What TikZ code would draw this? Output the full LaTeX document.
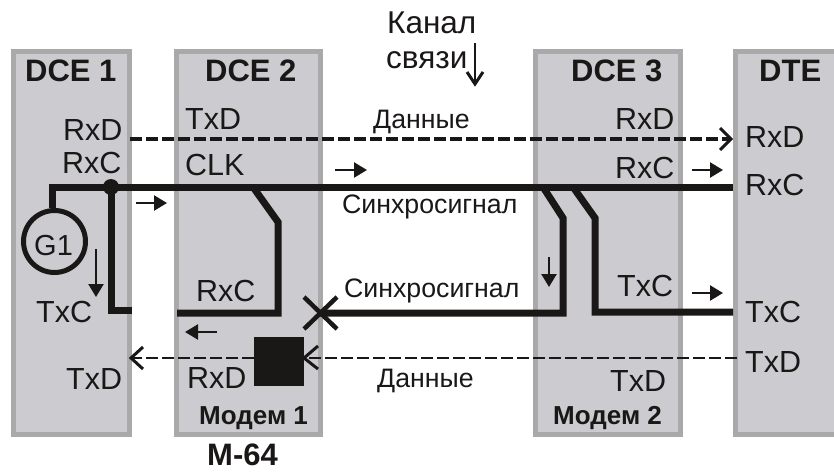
\documentclass[tikz,border=0pt]{standalone}
\usepackage{fontspec}
\setmainfont{Liberation Sans}
\usetikzlibrary{arrows.meta}
\definecolor{boxfill}{HTML}{CCCCD0}
\definecolor{boxedge}{HTML}{A9A9A9}
\definecolor{ink}{HTML}{1A1717}
\tikzset{
  panel/.style={draw=boxedge,fill=boxfill,line width=5pt,inner sep=0pt,anchor=north west},
  lab/.style={anchor=base west,inner sep=0pt,text=ink,font=\fontsize{30.5}{31}\selectfont},
  head/.style={anchor=base west,inner sep=0pt,text=ink,font=\fontsize{31}{32}\selectfont\bfseries},
  modem/.style={anchor=base west,inner sep=0pt,text=ink,font=\fontsize{26}{27}\selectfont\bfseries},
  note/.style={anchor=base west,inner sep=0pt,text=ink,font=\fontsize{26.7}{28}\selectfont},
  chan/.style={anchor=base west,inner sep=0pt,text=ink,font=\fontsize{31.5}{32}\selectfont},
  wire/.style={draw=ink,line width=7pt,line join=miter},
  dataup/.style={draw=ink,line width=3.8pt,dash pattern=on 12pt off 4pt},
  datadown/.style={draw=ink,line width=2.6pt,dash pattern=on 12pt off 4pt},
  opentip/.style={draw=ink,line width=3pt,line cap=butt},
  dirarrow/.style={draw=ink,line width=2.4pt,-{Triangle[length=13pt,width=15pt]}},
}
\begin{document}
\begin{tikzpicture}[x=1pt,y=-1pt]
\useasboundingbox (0,0) rectangle (834,471);
\begin{scope}
\clip (0,0) rectangle (834,471);
\node[panel,minimum width=116pt,minimum height=383pt] (dce1) at (11,49) {};
\node[panel,minimum width=144pt,minimum height=383pt] (dce2) at (174,49) {};
\node[panel,minimum width=145pt,minimum height=383pt] (dce3) at (533,49) {};
\node[panel,minimum width=120pt,minimum height=383pt] (dte) at (733,49) {};
\end{scope}
% named points
\coordinate (rxdA) at (130,139);
\coordinate (rxdB) at (731,139);
\coordinate (clkL) at (52,187);
\coordinate (clkR) at (733,187);
\coordinate (dotp) at (111,187);
\coordinate (c1) at (111,310);
\coordinate (c2) at (132,310);
\coordinate (d1) at (253,187);
\coordinate (d2) at (278,222);
\coordinate (d3) at (278,313);
\coordinate (d4) at (177,313);
\coordinate (cross) at (320,313);
\coordinate (e1) at (563,313);
\coordinate (e2) at (563,218);
\coordinate (e3) at (543,187);
\coordinate (f1) at (573,187);
\coordinate (f2) at (595,218);
\coordinate (f3) at (595,312);
\coordinate (f4) at (733,312);
\coordinate (txdR) at (737,358);
\coordinate (txdM) at (304,358);
\coordinate (txdL) at (131,358);
% G1
\node[circle,draw=ink,line width=5pt,minimum size=62pt,inner sep=0pt] (gen) at (54.5,241.5) {};
\node[anchor=base west,inner sep=0pt,text=ink,font=\fontsize{29}{30}\selectfont] (g1) at (34,255) {G1};
% thick wires
\draw[wire] (gen.north -| clkL) -- (clkL) -- (clkR);
\draw[wire] (dotp) -- (c1) -- (c2);
\fill[ink] (dotp) circle (8pt);
\draw[wire] (d1) -- (d2) -- (d3) -- (d4);
\draw[wire] (cross) -- (e1) -- (e2) -- (e3);
\draw[wire] (f1) -- (f2) -- (f3) -- (f4);
% cross
\coordinate (xa) at (304,297); \coordinate (xb) at (337,329);
\coordinate (xc) at (304,329); \coordinate (xd) at (337,297);
\draw[draw=ink,line width=4.5pt] (xa) -- (xb);
\draw[draw=ink,line width=4.5pt] (xc) -- (xd);
% data lines
\draw[dataup] (rxdA) -- (rxdB);
\draw[opentip] (720,128) -- (rxdB) -- (720,150);
\node[fill=ink,minimum width=50pt,minimum height=49pt,inner sep=0pt,anchor=north west] (blk) at (254,337) {};
\draw[datadown] (txdR) -- (txdM);
\draw[datadown] (blk.west |- txdL) -- (txdL);
\draw[opentip] (318,346) -- (txdM) -- (318,369);
\draw[opentip] (143,347) -- (txdL) -- (143,369);
% direction arrows
\coordinate (a1) at (136,203); \coordinate (a2) at (167,203);
\coordinate (a3) at (335,170); \coordinate (a4) at (367,170);
\coordinate (a5) at (692,170); \coordinate (a6) at (723,170);
\coordinate (a7) at (692,293); \coordinate (a8) at (723,293);
\coordinate (a9) at (217,332); \coordinate (a10) at (185,332);
\coordinate (a11) at (96,249); \coordinate (a12) at (96,297);
\coordinate (a13) at (549,257); \coordinate (a14) at (549,287);
\draw[dirarrow] (a1) -- (a2);
\draw[dirarrow] (a3) -- (a4);
\draw[dirarrow] (a5) -- (a6);
\draw[dirarrow] (a7) -- (a8);
\draw[dirarrow] (a9) -- (a10);
\draw[dirarrow] (a11) -- (a12);
\draw[dirarrow] (a13) -- (a14);
\coordinate (ch1) at (475,43); \coordinate (ch2) at (475,84);
\draw[draw=ink,line width=2.6pt] (ch1) -- (ch2);
\draw[opentip] (467,72) -- (ch2) -- (483,72);
% texts
\node[head] (t1) at (25,81) {DCE 1};
\node[head] (t2) at (205,81) {DCE 2};
\node[head] (t3) at (571,81) {DCE 3};
\node[head] (t4) at (759,81) {DTE};
\node[lab] (l1) at (63,140) {RxD};
\node[lab] (l2) at (62,173) {RxC};
\node[lab] (l3) at (36,322) {TxC};
\node[lab] (l4) at (66,389) {TxD};
\node[lab] (l5) at (185,129) {TxD};
\node[lab] (l6) at (185,175) {CLK};
\node[lab] (l7) at (196,301) {RxC};
\node[lab] (l8) at (187,388) {RxD};
\node[lab] (l9) at (615,129) {RxD};
\node[lab] (l10) at (615,178) {RxC};
\node[lab] (l11) at (617,296) {TxC};
\node[lab] (l12) at (610,391) {TxD};
\node[lab] (l13) at (745,147) {RxD};
\node[lab] (l14) at (745,195) {RxC};
\node[lab] (l15) at (745,322) {TxC};
\node[lab] (l16) at (745,372) {TxD};
\node[modem] (m1) at (199,424) {Модем 1};
\node[modem] (m2) at (553,424) {Модем 2};
\node[head] (m64) at (207,465) {М-64};
\node[chan] (k1) at (387,33) {Канал};
\node[chan] (k2) at (386,68) {связи};
\node[note] (n1) at (373,128) {Данные};
\node[note] (n2) at (342,213) {Синхросигнал};
\node[note] (n3) at (344,297) {Синхросигнал};
\node[note] (n4) at (377,387) {Данные};
\end{tikzpicture}
\end{document}
